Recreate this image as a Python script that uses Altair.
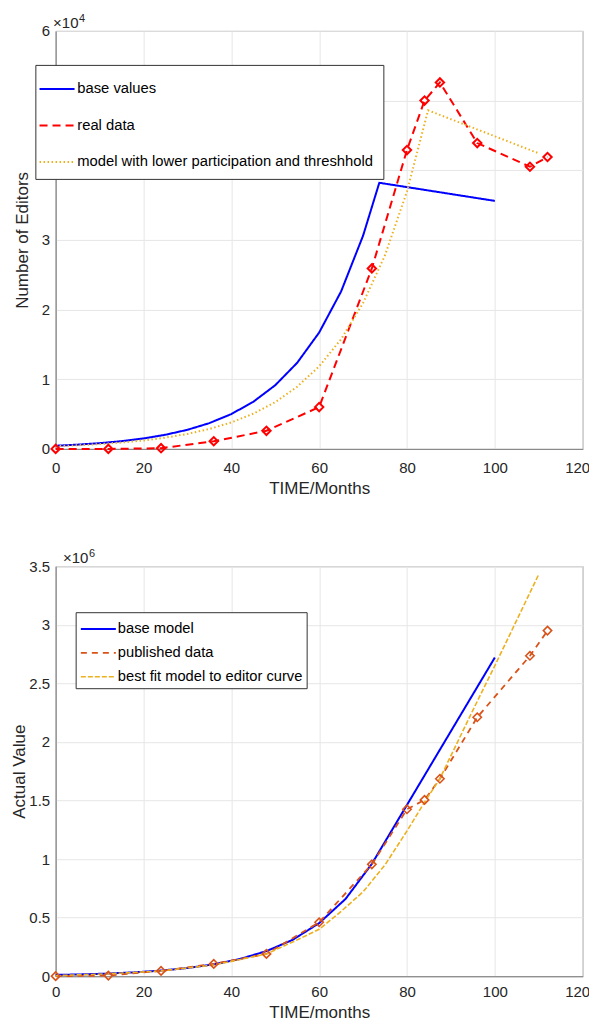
import altair as alt
import pandas as pd

FONT = "Liberation Sans"
TXT = "#262626"
AXC = "#808080"
GRID = "#e6e6e6"

# ---------------- top panel: Number of Editors ----------------
top_names = ["base values", "real data", "model with lower participation and threshhold"]
top_colors = ["#0000FF", "#FF0000", "#EDB120"]
top_dashes = [[1, 0], [8, 5], [1.5, 2.5]]
top_widths = [2, 2, 1.8]

base_t = [0, 5, 10, 15, 20, 25, 30, 35, 40, 45, 50, 55, 60, 65, 70, 73.7, 100]
base_v = [450, 610, 820, 1110, 1500, 2030, 2740, 3700, 5000, 6760, 9140, 12360,
          16700, 22600, 30600, 38200, 35600]

real_t = [0, 12, 24, 36, 48, 60, 72, 80, 84, 87.5, 96, 108, 112]
real_v = [0, 0, 100, 1100, 2600, 6000, 25900, 42900, 50000, 52600, 43900, 40500, 41900]

lower_t = [0, 5, 10, 15, 20, 25, 30, 35, 40, 45, 50, 55, 60, 65, 70, 75, 80, 84.8, 109.7]
lower_v = [390, 520, 690, 920, 1220, 1620, 2150, 2860, 3800, 5050, 6710, 8920,
           11850, 15750, 20930, 27800, 36950, 48600, 42500]

# ---------------- bottom panel: Actual Value ----------------
bot_names = ["base model", "published data", "best fit model to editor curve"]
bot_colors = ["#0000FF", "#D95319", "#EDB120"]
bot_dashes = [[1, 0], [6, 5], [5, 2]]
bot_widths = [2, 1.6, 1.6]

bmodel_t = [0, 6, 12, 18, 24, 30, 36, 42, 48, 54, 60, 66, 72, 100]
bmodel_v = [10700, 15500, 22600, 32900, 47800, 69600, 101000, 147000, 214000,
            311000, 453000, 659000, 959000, 2720000]

pub_t = [0, 12, 24, 36, 48, 60, 72, 80, 84, 87.5, 96, 108, 112]
pub_v = [0, 5000, 45000, 105000, 190000, 460000, 955000, 1425000, 1505000,
         1685000, 2210000, 2735000, 2950000]

fit_t = [0, 12, 24, 36, 48, 55, 60, 65, 70, 75, 80, 84.4, 87.4, 95, 100, 110]
fit_v = [5000, 20000, 45000, 95000, 190000, 310000, 400000, 553000, 720000,
         950000, 1240000, 1510000, 1680000, 2270000, 2650000, 3430000]

x_ticks = [0, 20, 40, 60, 80, 100, 120]
top_y_ticks = [0, 10000, 20000, 30000, 40000, 50000, 60000]
bot_y_ticks = [0, 500000, 1000000, 1500000, 2000000, 2500000, 3000000, 3500000]


def frame(key, names, ts_list, vs_list):
    rows = []
    for n, ts, vs in zip(names, ts_list, vs_list):
        for t, v in zip(ts, vs):
            rows.append({key: n, "t": t, "v": v})
    return pd.DataFrame(rows)


def panel(key, df, names, colors, dashes, widths, marker_series, marker_color, marker_w,
          y_ticks, y_div, exp_sup, exp_dx, x_title, y_title, legend, W, H,
          xlp, xtp, ylp, ytp):
    x = alt.X("t:Q", scale=alt.Scale(domain=[0, 120], nice=False, zero=False),
              axis=alt.Axis(values=x_ticks, title=x_title, ticks=False, labelFlush=False,
                            labelOffset=alt.condition("datum.value == 120", alt.value(-5.5), alt.value(0)),
                            labelPadding=xlp, titlePadding=xtp, format="d"))
    y = alt.Y("v:Q", scale=alt.Scale(domain=[y_ticks[0], y_ticks[-1]], nice=False),
              axis=alt.Axis(values=y_ticks, title=y_title, ticks=False, labelFlush=False,
                            labelExpr="datum.value/" + str(y_div),
                            labelPadding=ylp, titlePadding=ytp))
    lines = alt.Chart(df).mark_line().encode(
        x=x, y=y,
        color=alt.Color(key + ":N", scale=alt.Scale(domain=names, range=colors), legend=legend),
        strokeDash=alt.StrokeDash(key + ":N", scale=alt.Scale(domain=names, range=dashes), legend=legend),
        strokeWidth=alt.StrokeWidth(key + ":N", scale=alt.Scale(domain=names, range=widths), legend=None),
    )
    pts = alt.Chart(df[df[key] == marker_series]).mark_point(
        shape="diamond", filled=False, size=70, strokeWidth=marker_w,
        color=marker_color, opacity=1
    ).encode(x=x, y=y)
    exp_df = pd.DataFrame({"t": [0], "v": [y_ticks[-1]]})
    exp1 = alt.Chart(exp_df).mark_text(
        text="×10", align="left", baseline="alphabetic", dx=exp_dx, dy=-3,
        fontSize=15, font=FONT, color=TXT).encode(x=x, y=y)
    exp2 = alt.Chart(exp_df).mark_text(
        text=exp_sup, align="left", baseline="alphabetic", dx=exp_dx + 26, dy=-9,
        fontSize=11, font=FONT, color=TXT).encode(x=x, y=y)
    return alt.layer(lines, pts, exp1, exp2).properties(width=W, height=H)


top_df = frame("editors", top_names, [base_t, real_t, lower_t], [base_v, real_v, lower_v])
bot_df = frame("articles", bot_names, [bmodel_t, pub_t, fit_t], [bmodel_v, pub_v, fit_v])

top_legend = alt.Legend(
    orient="none", legendX=-20.3, legendY=34, title=None,
    symbolType="M-1.316,0H1.316", symbolSize=708, symbolStrokeWidth=2, symbolOffset=-2.5,
    padding=9.7, rowPadding=14.4, labelOffset=5.7, labelFontSize=14.8, labelFont=FONT,
    labelColor="#000000", labelLimit=500, fillColor="white", strokeColor="#333333")

bot_legend = alt.Legend(
    orient="none", legendX=20, legendY=46, title=None,
    symbolType="M-1.483,0H1.483", symbolSize=557, symbolStrokeWidth=2, symbolOffset=5.8,
    padding=3.9, rowPadding=3.8, labelOffset=6.5, labelFontSize=14.7, labelFont=FONT,
    labelColor="#000000", labelLimit=500, fillColor="white", strokeColor="#333333")

top = panel("editors", top_df, top_names, top_colors, top_dashes, top_widths, "real data", "#FF0000", 2,
            top_y_ticks, 10000, "4", -2.6, "TIME/Months", "Number of Editors", top_legend,
            527, 418, 11.7, 5.3, 6, 9.85)
bottom = panel("articles", bot_df, bot_names, bot_colors, bot_dashes, bot_widths, "published data", "#D95319", 1.6,
               bot_y_ticks, 1000000, "6", 7.3, "TIME/months", "Actual Value", bot_legend,
               527, 410, 8.5, 5.0, 6, 0.25)

chart = alt.vconcat(top, bottom, spacing=49.3).resolve_scale(
    color="independent", strokeDash="independent", strokeWidth="independent"
).resolve_legend(
    color="independent", strokeDash="independent"
).properties(
    padding={"left": 1.65, "top": 3.9, "right": -1.5, "bottom": 2.5}
).configure_axis(
    domainColor=AXC, gridColor=GRID, gridOpacity=1,
    labelFont=FONT, labelFontSize=15, labelColor=TXT,
    titleFont=FONT, titleFontSize=17, titleFontWeight="normal", titleColor=TXT,
).configure_view(stroke=AXC, strokeWidth=1)

chart.save("out.html", embed_options={"renderer": "svg", "actions": False})
